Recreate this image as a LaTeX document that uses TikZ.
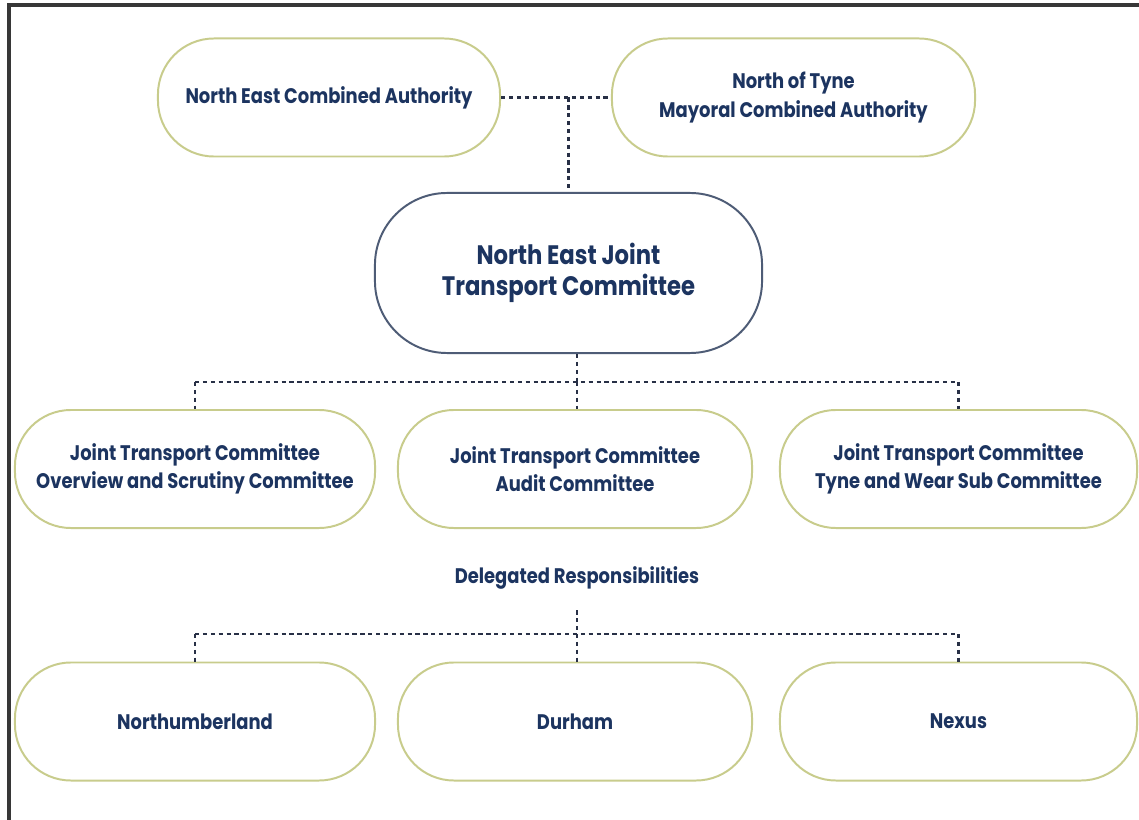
\documentclass[tikz,border=0pt]{standalone}
\usepackage{fontspec}
\setmainfont{Poppins}[FakeStretch=0.85]
\definecolor{jtcnavy}{RGB}{28,52,96}
\definecolor{jtcolive}{RGB}{200,204,140}
\definecolor{jtcslate}{RGB}{78,92,118}
\definecolor{jtcdots}{RGB}{40,48,70}
\definecolor{jtcframe}{RGB}{55,55,55}
\usetikzlibrary{positioning,calc}

\begin{document}
\begin{tikzpicture}[x=0.025cm, y=-0.025cm,
    body/.style={draw=jtcolive, line width=1.4pt, fill=white, rounded corners=1.4cm,
        minimum width=#1, minimum height=2.95cm, inner sep=0pt, align=center,
        text=jtcnavy, font=\bfseries\fontsize{15}{20}\selectfont},
    chair/.style={body=9.675cm, draw=jtcslate, rounded corners=1.8cm, minimum height=4cm,
        font=\bfseries\fontsize{19}{22.5}\selectfont},
    link/.style={jtcdots, line width=1.6pt, dash pattern=on 3pt off 2.6pt}]

    % Page and frame
    \useasboundingbox (0,0) rectangle (1139,820);
    \fill[white] (0,0) rectangle (1139,820);
    \draw[jtcframe, line width=2.2pt] (9,820) -- (9,5) -- (1139,5);

    % Constituent authorities
    \node[body=8.55cm] (neca) at (329,97.5) {North East Combined Authority};
    \node[body=9.075cm] (notyne) at (793.5,97.5) {North of Tyne\\Mayoral Combined Authority};

    % Joint committee
    \node[chair] (jtc) at (568.5,273) {North East Joint\\Transport Committee};

    % Committees
    \node[body=9cm] (scrutiny) at (195,469) {Joint Transport Committee\\Overview and Scrutiny Committee};
    \node[body=8.85cm] (audit) at (575,469) {Joint Transport Committee\\Audit Committee};
    \node[body=8.925cm] (tyneweur) at (958.5,469) {Joint Transport Committee\\Tyne and Wear Sub Committee};

    \node[text=jtcnavy, font=\bfseries\fontsize{15}{20}\selectfont] (deleg) at (577,578) {Delegated Responsibilities};

    % Delegated bodies
    \node[body=9cm] (north) at (195,721.5) {Northumberland};
    \node[body=8.85cm] (durham) at (575,721.5) {Durham};
    \node[body=8.925cm] (nexus) at (958.5,721.5) {Nexus};

    % Dotted links
    \coordinate (topj) at (568.5,97.5);
    \coordinate (midj) at (577,382);
    \coordinate (lowj) at (577,634);
    \draw[link] (neca.east) -- (notyne.west);
    \draw[link] (topj) -- (jtc.north);
    \draw[link] (jtc.south -| midj) -- (midj);
    \draw[link] (scrutiny.north |- midj) -- (tyneweur.north |- midj);
    \draw[link] (scrutiny.north |- midj) -- (scrutiny.north);
    \draw[link] (midj) -- (midj |- audit.north);
    \draw[link] (tyneweur.north |- midj) -- (tyneweur.north);
    \draw[link] ([yshift=-0.4cm]deleg.south) -- (lowj |- durham.north);
    \draw[link] (north.north |- lowj) -- (nexus.north |- lowj);
    \draw[link] (north.north |- lowj) -- (north.north);
    \draw[link] (nexus.north |- lowj) -- (nexus.north);
\end{tikzpicture}
\end{document}
